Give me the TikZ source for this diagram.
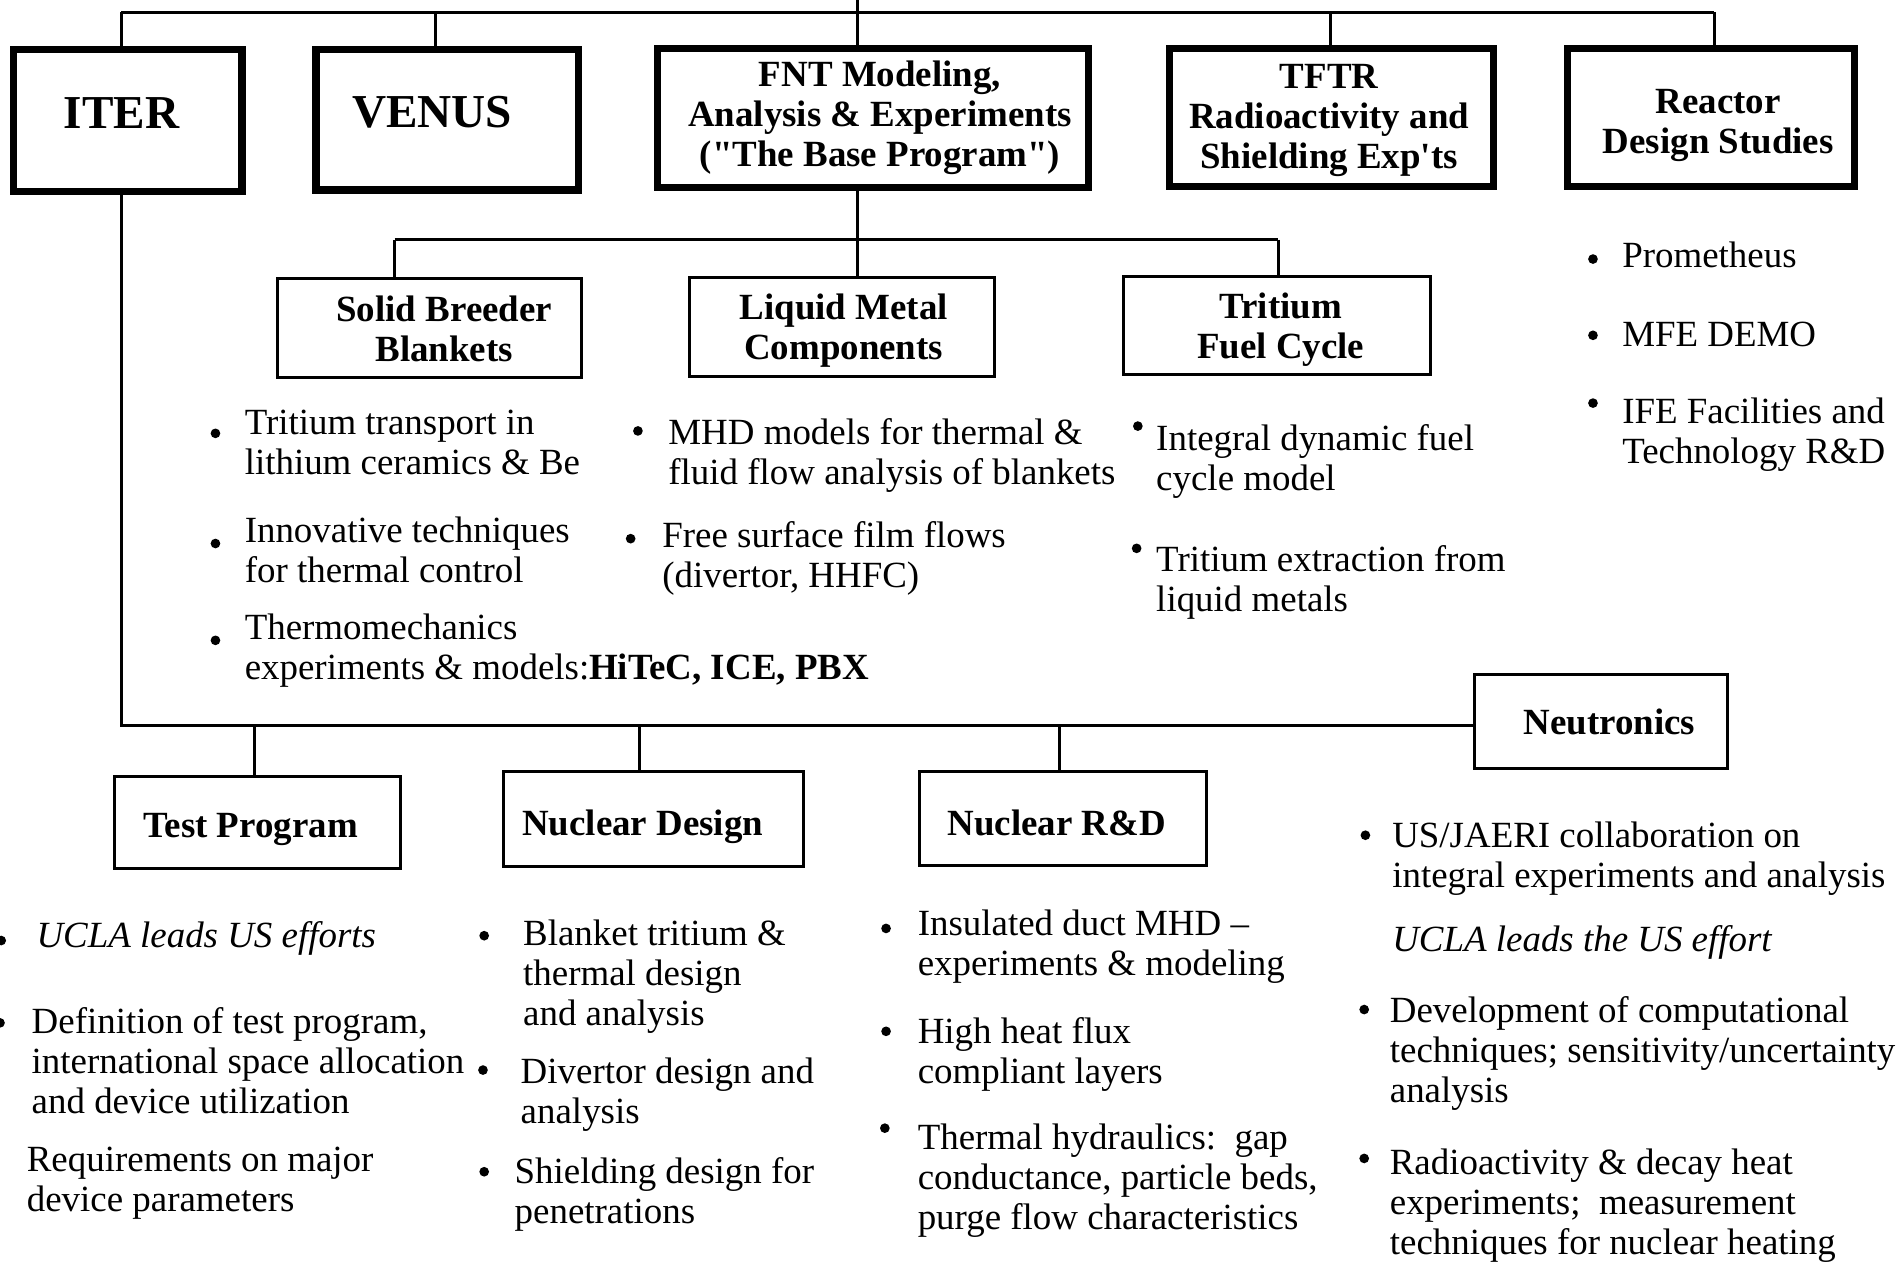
\documentclass[tikz,border=0pt]{standalone}
\usepackage{fontspec}
\setmainfont{Liberation Serif}[Ligatures=TeXOff]
\newcommand{\bodyfs}{\fontsize{30.5}{33}\selectfont}
\newcommand{\bigfs}{\fontsize{39}{44}\selectfont}
\tikzset{
  thickbox/.style={draw, line width=6pt, inner sep=0pt},
  thinbox/.style={draw, line width=2.5pt, inner sep=0pt},
  boxtitle/.style={align=center, inner sep=0pt, font=\bfseries\bodyfs},
  bigtitle/.style={align=center, inner sep=0pt, font=\bfseries\bigfs},
  conn/.style={line width=2.5pt},
  itemtext/.style={anchor=base west, align=left, inner sep=0pt, font=\bodyfs},
  bullet/.style={circle, fill=black, inner sep=0pt, minimum size=8pt},
}
\begin{document}
\begin{tikzpicture}[x=1pt, y=-1pt]
\useasboundingbox (0,0) rectangle (1568,1042);
\fill[white] (0,0) rectangle (1568,1042);

% ---- top level boxes
\node[thickbox, minimum width=189pt, minimum height=117pt] (iterbox) at (105.5,99.5) {};
\node[bigtitle] (itert) at (100.5,93) {ITER};
\node[thickbox, minimum width=217pt, minimum height=116pt] (venusbox) at (369.5,99) {};
\node[bigtitle] (venust) at (357,93) {VENUS};
\node[thickbox, minimum width=356pt, minimum height=115pt] (fntbox) at (721,97.5) {};
\node[boxtitle] (fntt) at (727,97) {FNT Modeling,\\Analysis \& Experiments\\("The Base Program")};
\node[thickbox, minimum width=268pt, minimum height=114pt] (tftrbox) at (1100,97) {};
\node[boxtitle] (tftrt) at (1098,99.5) {TFTR\\Radioactivity and\\Shielding Exp'ts};
\node[thickbox, minimum width=237pt, minimum height=114pt] (reacbox) at (1413.5,97) {};
\node[boxtitle] (react) at (1419.5,103.5) {Reactor\\Design Studies};

% ---- second level boxes
\node[thinbox, minimum width=251.5pt, minimum height=81.5pt] (sbbox) at (355,271) {};
\node[boxtitle] (sbt) at (367,271.5) {Solid Breeder\\Blankets};
\node[thinbox, minimum width=252.5pt, minimum height=81.5pt] (lmbox) at (695.5,270) {};
\node[boxtitle] (lmt) at (697,273.5) {Liquid Metal\\Components};
\node[thinbox, minimum width=253.5pt, minimum height=81.5pt] (tfbox) at (1055,269) {};
\node[boxtitle] (tft) at (1058,272.5) {Tritium\\Fuel Cycle};

% ---- bottom boxes
\node[thinbox, minimum width=208.5pt, minimum height=77.5pt] (nebox) at (1322.5,596) {};
\node[boxtitle] (net) at (1329.5,596) {Neutronics};
\node[thinbox, minimum width=236.5pt, minimum height=76.5pt] (tpbox) at (212.5,679.5) {};
\node[boxtitle] (tpt) at (207,685) {Test Program};
\node[thinbox, minimum width=247.5pt, minimum height=78.5pt] (ndbox) at (540,676.5) {};
\node[boxtitle] (ndt) at (531,683) {Nuclear Design};
\node[thinbox, minimum width=237.5pt, minimum height=77.5pt] (nrbox) at (878,676) {};
\node[boxtitle] (nrt) at (873,680) {Nuclear R\&D};

% ---- connectors: top bus
\coordinate (root) at (708,0);
\coordinate (busL) at (100,10);
\coordinate (busV) at (360,10);
\coordinate (busT) at (1099,10);
\coordinate (busR) at (1416,10);
\draw[conn] (root) -- (root |- busL);
\draw[conn] (busL) -- (busR);
\draw[conn] (busL) -- (busL |- iterbox.north);
\draw[conn] (busV) -- (busV |- venusbox.north);
\draw[conn] (root |- busL) -- (root |- fntbox.north);
\draw[conn] (busT) -- (busT |- tftrbox.north);
\draw[conn] (busR) -- (busR |- reacbox.north);

% ---- second level bus
\coordinate (twoL) at (326,198);
\coordinate (twoR) at (1056,198);
\draw[conn] (root |- fntbox.south) -- (root |- lmbox.north);
\draw[conn] (twoL) -- (twoR);
\draw[conn] (twoL) -- (twoL |- sbbox.north);
\draw[conn] (twoR) -- (twoR |- tfbox.north);

% ---- bottom bus
\coordinate (lowL) at (100,599);
\coordinate (lowTP) at (210,599);
\coordinate (lowND) at (528,599);
\coordinate (lowNR) at (875,599);
\draw[conn] (busL |- iterbox.south) -- (lowL) -- (lowL -| nebox.west);
\draw[conn] (lowTP) -- (lowTP |- tpbox.north);
\draw[conn] (lowND) -- (lowND |- ndbox.north);
\draw[conn] (lowNR) -- (lowNR |- nrbox.north);

% ---- Solid Breeder items (y = baseline of last line)
\node[bullet] (sbd1) at (178,358) {};
\node[itemtext] (sb1) at (202,392) {Tritium transport in\\lithium ceramics \& Be};
\node[bullet] (sbd2) at (178,449) {};
\node[itemtext] (sb2) at (202,481) {Innovative techniques\\for thermal control};
\node[bullet] (sbd3) at (178,529) {};
\node[itemtext] (sb3) at (202,561) {Thermomechanics\\experiments \& models:\textbf{HiTeC, ICE, PBX}};

% ---- Liquid Metal items
\node[bullet] (lmd1) at (527,356) {};
\node[itemtext] (lm1) at (552,400) {MHD models for thermal \&\\fluid flow analysis of blankets};
\node[bullet] (lmd2) at (521,445) {};
\node[itemtext] (lm2) at (547,485) {Free surface film flows\\(divertor, HHFC)};

% ---- Tritium items
\node[bullet] (tfd1) at (940,352) {};
\node[itemtext] (tf1) at (955,405) {Integral dynamic fuel\\cycle model};
\node[bullet] (tfd2) at (939,453) {};
\node[itemtext] (tf2) at (955,505) {Tritium extraction from\\liquid metals};

% ---- Reactor items
\node[bullet] (rdd1) at (1316,214) {};
\node[itemtext] (rd1) at (1340,221) {Prometheus};
\node[bullet] (rdd2) at (1316,277) {};
\node[itemtext] (rd2) at (1340,286) {MFE DEMO};
\node[bullet] (rdd3) at (1316,333) {};
\node[itemtext] (rd3) at (1340,383) {IFE Facilities and\\Technology R\&D};

% ---- Test Program items
\node[bullet] (tpd1) at (1,777) {};
\node[itemtext] (tp1) at (30,783) {\itshape UCLA leads US efforts};
\node[bullet] (tpd2) at (0,845) {};
\node[itemtext] (tp2) at (26,920) {Definition of test program,\\international space allocation\\and device utilization};
\node[itemtext] (tp3) at (22,1001) {Requirements on major\\device parameters};

% ---- Nuclear Design items
\node[bullet] (ndd1) at (400,773) {};
\node[itemtext] (nd1) at (432,847) {Blanket tritium \&\\thermal design\\and analysis};
\node[bullet] (ndd2) at (399,884) {};
\node[itemtext] (nd2) at (430,928) {Divertor design and\\analysis};
\node[bullet] (ndd3) at (400,968) {};
\node[itemtext] (nd3) at (425,1011) {Shielding design for\\penetrations};

% ---- Nuclear R&D items
\node[bullet] (nrd1) at (732,767) {};
\node[itemtext] (nr1) at (758,806) {Insulated duct MHD –\\experiments \& modeling};
\node[bullet] (nrd2) at (732,852) {};
\node[itemtext] (nr2) at (758,895) {High heat flux\\compliant layers};
\node[bullet] (nrd3) at (731,932) {};
\node[itemtext] (nr3) at (758,1016) {Thermal hydraulics:\ \ gap\\conductance, particle beds,\\purge flow characteristics};

% ---- Neutronics items
\node[bullet] (ned1) at (1128,690) {};
\node[itemtext] (ne1) at (1150,733) {US/JAERI collaboration on\\integral experiments and analysis};
\node[itemtext] (ne2) at (1150,786) {\itshape UCLA leads the US effort};
\node[bullet] (ned3) at (1127,834) {};
\node[itemtext] (ne3) at (1148,911) {Development of computational\\techniques; sensitivity/uncertainty\\analysis};
\node[bullet] (ned4) at (1127,957) {};
\node[itemtext] (ne4) at (1148,1036) {Radioactivity \& decay heat\\experiments;\ \ measurement\\techniques for nuclear heating};
\end{tikzpicture}
\end{document}
